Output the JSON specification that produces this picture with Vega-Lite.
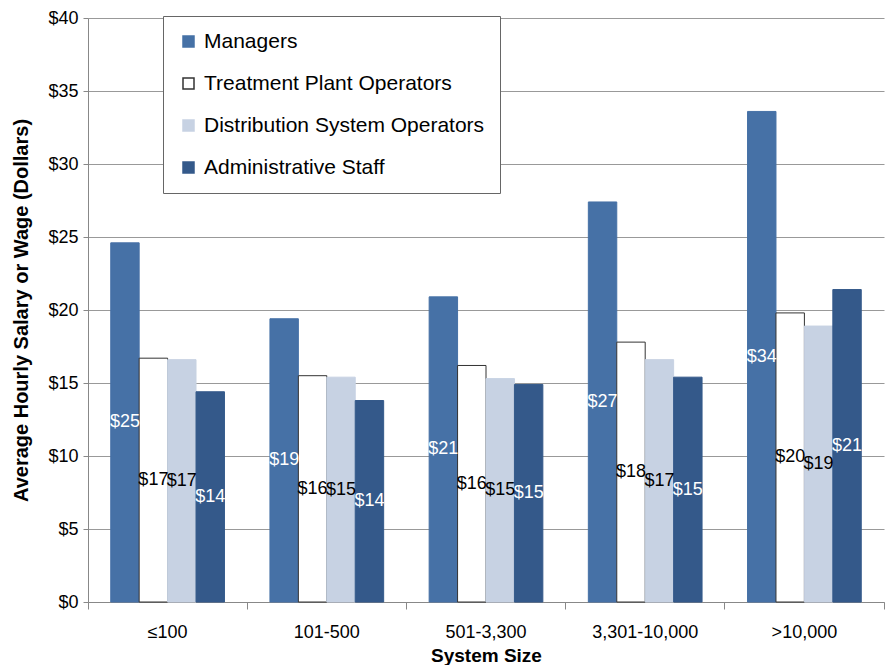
{
  "$schema": "https://vega.github.io/schema/vega-lite/v6.json",
  "width": 796,
  "height": 584,
  "autosize": {"type": "none"},
  "padding": {"left": 88, "top": 18, "right": 1, "bottom": 63},
  "background": "white",
  "config": {
    "font": "Liberation Sans",
    "view": {"stroke": null},
    "axis": {"labelColor": "#000", "titleColor": "#000", "labelFont": "Liberation Sans", "titleFont": "Liberation Sans"}
  },
  "data": {
    "values": [
      {"size": "≤100", "group": "Managers", "value": 24.6},
      {"size": "≤100", "group": "Treatment Plant Operators", "value": 16.7},
      {"size": "≤100", "group": "Distribution System Operators", "value": 16.6},
      {"size": "≤100", "group": "Administrative Staff", "value": 14.4},
      {"size": "101-500", "group": "Managers", "value": 19.4},
      {"size": "101-500", "group": "Treatment Plant Operators", "value": 15.5},
      {"size": "101-500", "group": "Distribution System Operators", "value": 15.4},
      {"size": "101-500", "group": "Administrative Staff", "value": 13.8},
      {"size": "501-3,300", "group": "Managers", "value": 20.9},
      {"size": "501-3,300", "group": "Treatment Plant Operators", "value": 16.2},
      {"size": "501-3,300", "group": "Distribution System Operators", "value": 15.3},
      {"size": "501-3,300", "group": "Administrative Staff", "value": 14.9},
      {"size": "3,301-10,000", "group": "Managers", "value": 27.4},
      {"size": "3,301-10,000", "group": "Treatment Plant Operators", "value": 17.8},
      {"size": "3,301-10,000", "group": "Distribution System Operators", "value": 16.6},
      {"size": "3,301-10,000", "group": "Administrative Staff", "value": 15.4},
      {"size": ">10,000", "group": "Managers", "value": 33.6},
      {"size": ">10,000", "group": "Treatment Plant Operators", "value": 19.8},
      {"size": ">10,000", "group": "Distribution System Operators", "value": 18.9},
      {"size": ">10,000", "group": "Administrative Staff", "value": 21.4}
    ]
  },
  "encoding": {
    "x": {
      "field": "size", "type": "nominal",
      "sort": ["≤100", "101-500", "501-3,300", "3,301-10,000", ">10,000"],
      "scale": {"paddingInner": 0, "paddingOuter": 0},
      "axis": {
        "title": "System Size", "titleFontSize": 19, "titleFontWeight": "bold", "titlePadding": 5,
        "labelAngle": 0, "labelFontSize": 18, "labelPadding": 14,
        "bandPosition": 1, "tickExtra": true, "tickSize": 7, "tickColor": "#888", "domainColor": "#888"
      }
    },
    "xOffset": {
      "field": "group", "type": "nominal",
      "sort": ["Managers", "Treatment Plant Operators", "Distribution System Operators", "Administrative Staff"],
      "scale": {"paddingInner": 0, "paddingOuter": 0.8}
    }
  },
  "layer": [
    {
      "mark": {"type": "bar", "strokeWidth": 1},
      "encoding": {
        "y": {
          "field": "value", "type": "quantitative",
          "scale": {"domain": [0, 40], "nice": false},
          "axis": {
            "title": "Average Hourly Salary or Wage (Dollars)", "titleFontSize": 20, "titleFontWeight": "bold", "titlePadding": 16,
            "values": [0, 5, 10, 15, 20, 25, 30, 35, 40],
            "labelExpr": "'$' + datum.value", "labelFontSize": 18, "labelPadding": 5,
            "tickSize": 5, "tickColor": "#888", "domainColor": "#888", "gridColor": "#999", "grid": true
          }
        },
        "color": {
          "field": "group", "type": "nominal",
          "sort": ["Managers", "Treatment Plant Operators", "Distribution System Operators", "Administrative Staff"],
          "scale": {"domain": ["Managers", "Treatment Plant Operators", "Distribution System Operators", "Administrative Staff"], "range": ["#4671A6", "#FFFFFF", "#C7D2E3", "#34598A"]},
          "legend": {
            "title": null, "orient": "none", "legendX": 75, "legendY": -2,
            "fillColor": "white", "strokeColor": "#666", "padding": 15,
            "labelFontSize": 21, "labelColor": "#000", "labelLimit": 400, "symbolType": "square", "symbolSize": 121,
            "rowPadding": 20, "labelOffset": 5
          }
        },
        "stroke": {
          "field": "group", "type": "nominal",
          "sort": ["Managers", "Treatment Plant Operators", "Distribution System Operators", "Administrative Staff"],
          "scale": {"domain": ["Managers", "Treatment Plant Operators", "Distribution System Operators", "Administrative Staff"], "range": ["#4671A6", "#333333", "#C7D2E3", "#34598A"]}
        }
      }
    },
    {
      "transform": [{"calculate": "datum.value / 2", "as": "mid"}],
      "mark": {"type": "text", "fontSize": 18, "baseline": "middle", "align": "center"},
      "encoding": {
        "y": {"field": "mid", "type": "quantitative"},
        "text": {"field": "value", "type": "quantitative", "format": "$.0f"},
        "color": {
          "condition": {"test": "datum.group === 'Managers' || datum.group === 'Administrative Staff'", "value": "white"},
          "value": "black"
        }
      }
    }
  ]
}
